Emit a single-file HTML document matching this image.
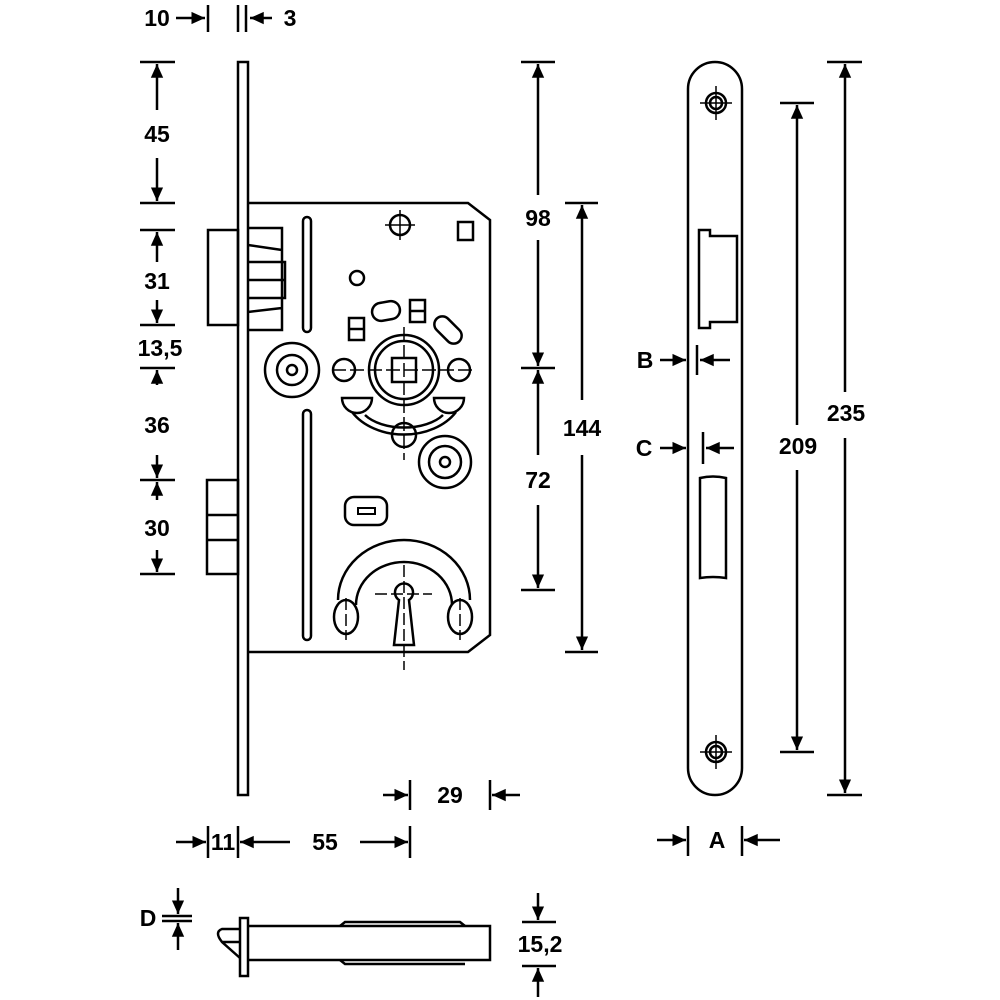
<!DOCTYPE html>
<html><head><meta charset="utf-8"><style>
html,body{margin:0;padding:0;background:#fff}
svg{display:block}
text{font-family:"Liberation Sans",Arial,sans-serif;font-size:23px;fill:#000;text-anchor:middle;dominant-baseline:central}
</style></head><body>
<svg width="1000" height="1000" viewBox="0 0 1000 1000" xmlns="http://www.w3.org/2000/svg">
<defs>
<marker id="a" viewBox="0 0 10 10" refX="10" refY="5" markerWidth="5.5" markerHeight="5.5" orient="auto"><path d="M0,0.5L10,5L0,9.5z" fill="#000"/></marker>
</defs>
<g fill="none" stroke="#000" stroke-width="2.5">
<rect x="238" y="62" width="10" height="733"/>
<path d="M248,203 H468 L490,220 V635 L468,652 H248"/>
<rect x="208" y="230" width="30" height="95"/>
<path d="M248,228 H282 V330 H248 M248,245 L282,250 M248,312 L282,308 M248,262 H285 V298 H248 M248,280 H285"/>
<rect x="207" y="480" width="31" height="94"/>
<path d="M207,515 H238 M207,540 H238"/>
<rect x="303" y="217" width="8" height="115" rx="4"/>
<rect x="303" y="410" width="8" height="230" rx="4"/>
<circle cx="400" cy="225" r="10"/>
<path d="M385,225 H415 M400,210 V240" stroke-width="1.5"/>
<circle cx="357" cy="278" r="7"/>
<rect x="458" y="222" width="15" height="18"/>
<circle cx="404" cy="370" r="35"/>
<circle cx="404" cy="370" r="29"/>
<rect x="392" y="358" width="24" height="24"/>
<path d="M332,370 H476 M404,327 V460" stroke-width="1.5" stroke-dasharray="14,4"/>
<circle cx="344" cy="370" r="11"/>
<circle cx="459" cy="370" r="11"/>
<rect x="349" y="318" width="15" height="22"/><path d="M349,329 H364"/>
<rect x="410" y="300" width="15" height="22"/><path d="M410,311 H425"/>
<rect x="372" y="302" width="28" height="18" rx="9" transform="rotate(-10 386 311)"/>
<rect x="432" y="322" width="32" height="16" rx="8" transform="rotate(45 448 330)"/>
<circle cx="292" cy="370" r="27"/><circle cx="292" cy="370" r="15"/><circle cx="292" cy="370" r="5"/>
<circle cx="445" cy="462" r="26"/><circle cx="445" cy="462" r="16"/><circle cx="445" cy="462" r="5"/>
<path d="M342,398 H372 A15,15 0 0 1 342,398 Z"/>
<path d="M434,398 H464 A15,15 0 0 1 434,398 Z"/>
<path d="M352,412 A60,45 0 0 0 456,412"/>
<path d="M365,415 A45,25 0 0 0 443,415"/>
<circle cx="404" cy="435" r="12"/>
<rect x="345" y="497" width="42" height="28" rx="9"/>
<rect x="358" y="508" width="17" height="6" stroke-width="2"/>
<path d="M338,600 A66,60 0 0 1 470,600"/>
<path d="M356,605 A48,43 0 0 1 452,605"/>
<ellipse cx="346" cy="617" rx="12" ry="17"/>
<ellipse cx="460" cy="617" rx="12" ry="17"/>
<path d="M399,600 A9,9 0 1 1 409,600 L414,645 H394 Z"/>
<path d="M375,594 H432 M404,565 V670 M346,598 V640 M460,598 V640" stroke-width="1.5" stroke-dasharray="12,4"/>
<path d="M688,89 A27,27 0 0 1 742,89 V768 A27,27 0 0 1 688,768 Z"/>
<circle cx="716" cy="103" r="10"/><circle cx="716" cy="103" r="6"/>
<path d="M700,103 H732 M716,86 V120" stroke-width="1.5"/>
<circle cx="716" cy="752" r="10"/><circle cx="716" cy="752" r="6"/>
<path d="M700,752 H732 M716,735 V769" stroke-width="1.5"/>
<path d="M699,230 H710 V236 H737 V322 H710 V328 H699 Z"/>
<path d="M700,478 Q713,475 726,478 V578 Q713,576 700,578 Z"/>
<rect x="240" y="918" width="8" height="58"/>
<path d="M248,926 H490 V960 H248"/>
<path d="M340,926 L345,922 H460 L465,926 M340,960 L345,964 H460 L465,964"/>
<path d="M240,929 H222 Q214,932 222,942 L240,958 M222,942 H240"/>
</g>
<g stroke="#000" stroke-width="2.5" fill="none">
<path d="M140,62 H175 M140,203 H175 M140,230 H175 M140,325 H175 M140,368 H175 M140,480 H175 M140,574 H175"/>
<path d="M208,5 V32 M238,5 V32 M246,5 V32"/>
<path d="M521,62 H555 M521,368 H555 M521,590 H555 M565,203 H598 M565,652 H598"/>
<path d="M780,103 H814 M780,752 H814 M827,62 H862 M827,795 H862"/>
<path d="M697,345 V375 M703,432 V464"/>
<path d="M410,780 V810 M490,780 V810"/>
<path d="M208,826 V858 M238,826 V858 M410,826 V858"/>
<path d="M688,826 V856 M742,826 V856"/>
<path d="M162,916 H192 M162,921 H192"/>
<path d="M522,922 H556 M522,966 H556"/>
</g>
<g stroke="#000" stroke-width="2.5" fill="none" marker-end="url(#a)">
<path d="M157,110 V64"/><path d="M157,158 V201"/>
<path d="M157,262 V232"/><path d="M157,300 V323"/>
<path d="M157,385 V370"/><path d="M157,455 V478"/>
<path d="M157,500 V482"/><path d="M157,550 V572"/>
<path d="M176,18 H205"/><path d="M272,18 H250"/>
<path d="M538,195 V64"/><path d="M538,240 V366"/>
<path d="M538,455 V370"/><path d="M538,505 V588"/>
<path d="M582,400 V205"/><path d="M582,455 V650"/>
<path d="M797,425 V105"/><path d="M797,470 V750"/>
<path d="M845,392 V64"/><path d="M845,438 V793"/>
<path d="M660,360 H686"/><path d="M730,360 H700"/>
<path d="M660,448 H686"/><path d="M734,448 H706"/>
<path d="M383,795 H408"/><path d="M520,795 H492"/>
<path d="M176,842 H206"/><path d="M290,842 H240"/><path d="M360,842 H408"/>
<path d="M657,840 H686"/><path d="M780,840 H744"/>
<path d="M178,888 V914"/><path d="M178,950 V923"/>
<path d="M538,893 V920"/><path d="M538,997 V968"/>
</g>
<g font-weight="bold">
<text x="157" y="18">10</text><text x="290" y="18">3</text>
<text x="157" y="134">45</text><text x="157" y="281">31</text>
<text x="160" y="348">13,5</text><text x="157" y="425">36</text><text x="157" y="528">30</text>
<text x="538" y="218">98</text><text x="538" y="480">72</text><text x="582" y="428">144</text>
<text x="798" y="446">209</text><text x="846" y="413">235</text>
<text x="645" y="360">B</text><text x="644" y="448">C</text>
<text x="450" y="795">29</text><text x="223" y="842">11</text><text x="325" y="842">55</text>
<text x="717" y="840">A</text><text x="148" y="918">D</text><text x="540" y="944">15,2</text>
</g>
</svg>
</body></html>
